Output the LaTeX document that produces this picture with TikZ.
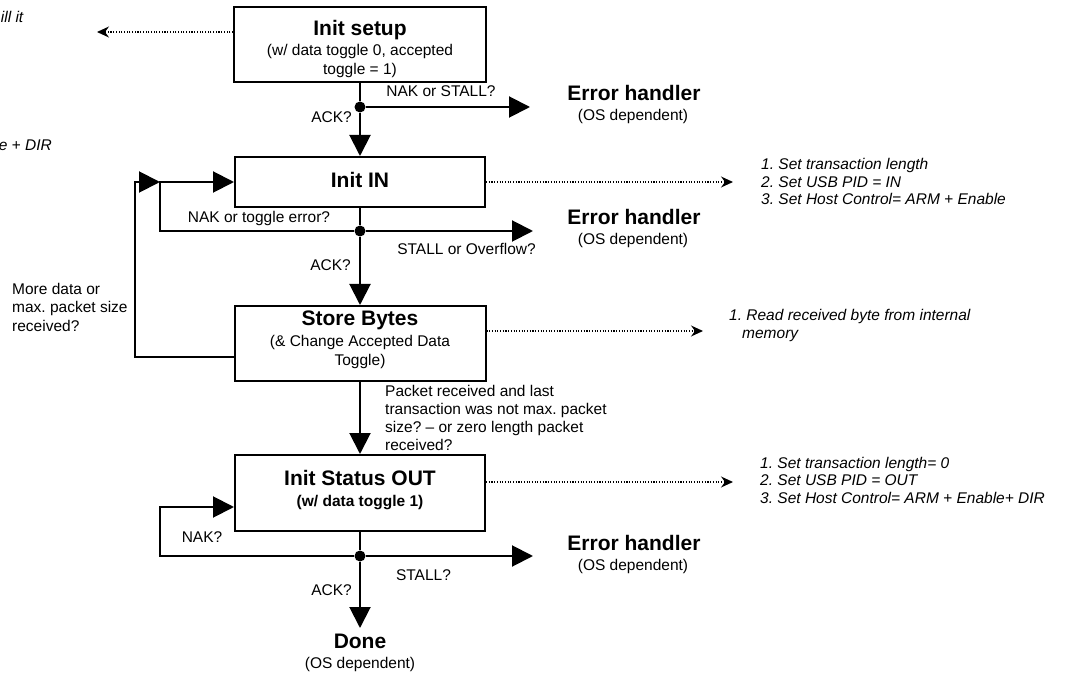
\documentclass[tikz,border=0pt]{standalone}
\usepackage{fontspec}
\setmainfont{Liberation Sans}
\usetikzlibrary{arrows.meta}
\frenchspacing
\begin{document}
\begin{tikzpicture}[x=1pt,y=-1pt,
  box/.style={draw, line width=2pt, inner sep=0pt},
  ttl/.style={font=\fontsize{21}{24}\selectfont\bfseries, inner sep=0pt, anchor=base},
  txt/.style={font=\fontsize{15.5}{18}\selectfont, inner sep=0pt, anchor=base},
  subb/.style={font=\fontsize{15.5}{18}\selectfont\bfseries, inner sep=0pt, anchor=base},
  lefttxt/.style={font=\fontsize{15.5}{18}\selectfont, inner sep=0pt, anchor=base west, align=left},
  note/.style={font=\fontsize{15.5}{17.5}\selectfont\itshape, inner sep=0pt, anchor=base west, align=left},
  dot/.style={circle, fill, inner sep=0pt, minimum size=11pt},
  wire/.style={line width=2pt},
  flow/.style={line width=2pt, -{Triangle[length=21pt,width=21pt]}},
  info/.style={line width=1.2pt, dash pattern=on 1.1pt off 1.6pt, -{Stealth[length=12pt,width=11pt,inset=4pt]}}
]
\useasboundingbox (0,0) rectangle (1072,679);

% cut-off texts at left edge
\node[note, anchor=base east] (cutA) at (23.5,22.5) {ill it};
\node[note, anchor=base east] (cutB) at (52,151) {e + DIR};
\coordinate (b0) at (97,32);

% Init setup
\node[box, minimum width=252pt, minimum height=75pt] (setup) at (360,44.5) {};
\node[ttl] (setupT) at (360,36) {Init setup};
\node[txt] (setupS1) at (360,56) {(w/ data toggle 0, accepted};
\node[txt] (setupS2) at (360,75) {toggle = 1)};

\node[dot] (d1) at (360,107) {};
\coordinate (a1) at (530,107);
\node[ttl] (e1) at (634,101) {Error handler};
\node[txt] (e1s) at (633,121) {(OS dependent)};
\node[txt] (l1) at (441,97) {NAK or STALL?};
\node[txt, anchor=base east] (l2) at (352,123) {ACK?};

% Init IN
\node[box, minimum width=250pt, minimum height=50pt] (inin) at (360,182) {};
\node[ttl] (ininT) at (360,188) {Init IN};
\node[dot] (d2) at (360,231) {};
\coordinate (a2) at (533,231);
\coordinate (j1) at (160,182);
\coordinate (k1) at (135,182);
\node[txt] (l3) at (259,223) {NAK or toggle error?};
\node[txt] (l4) at (466.5,255) {STALL or Overflow?};
\node[txt, anchor=base east] (l5) at (351,271) {ACK?};
\node[ttl] (e2) at (634,225) {Error handler};
\node[txt] (e2s) at (633,245) {(OS dependent)};
\node[note] (n1) at (761,205) {1. Set transaction length\\2. Set USB PID = IN\\3. Set Host Control= ARM + Enable};
\coordinate (b1) at (733,182);

% Store Bytes
\node[box, minimum width=251pt, minimum height=75pt] (store) at (360,343.5) {};
\node[ttl] (storeT) at (360,326) {Store Bytes};
\node[txt] (storeS1) at (360,347) {(\& Change Accepted Data};
\node[txt] (storeS2) at (360,366) {Toggle)};
\coordinate (k2) at (135,357);
\node[lefttxt] (l6) at (12,331) {More data or\\max. packet size\\received?};
\node[note] (n2) at (729,338) {1. Read received byte from internal\\\hspace*{13pt}memory};
\coordinate (b2) at (703,331);
\node[lefttxt] (l7) at (385,450) {Packet received and last\\transaction was not max. packet\\size? – or zero length packet\\received?};

% Init Status OUT
\node[box, minimum width=250pt, minimum height=76pt] (statout) at (360,493) {};
\node[ttl] (statT) at (360,485) {Init Status OUT};
\node[subb] (statS) at (360,506) {(w/ data toggle 1)};
\coordinate (b3) at (733,482);
\node[note] (n3) at (760,503) {1. Set transaction length= 0\\2. Set USB PID = OUT\\3. Set Host Control= ARM + Enable+ DIR};
\node[dot] (d3) at (360,556) {};
\coordinate (j3) at (160,507);
\coordinate (a3) at (533,556);
\node[txt] (l8) at (202,542) {NAK?};
\node[txt] (l9) at (423.5,580) {STALL?};
\node[txt, anchor=base east] (l10) at (352,595) {ACK?};
\node[ttl] (e3) at (634,550) {Error handler};
\node[txt] (e3s) at (633,570) {(OS dependent)};
\node[ttl] (done) at (360,648) {Done};
\node[txt] (dones) at (360,668) {(OS dependent)};
\coordinate (a4) at (360,628);

% connectors
\draw[wire] (setup) -- (d1);
\draw[flow] (d1) -- (inin);
\draw[flow] (d1) -- (a1);
\draw[info] (setup.west |- b0) -- (b0);
\draw[wire] (inin) -- (d2);
\draw[flow] (d2) -- (a2);
\draw[flow] (d2) -- (store);
\draw[flow] (d2) -| (j1) -- (inin.west);
\draw[info] (inin.east) -- (b1);
\draw[flow] (store.west |- k2) -- (k2) -- (k1) -- (j1);
\draw[info] (store.east |- b2) -- (b2);
\draw[flow] (store) -- (statout);
\draw[info] (statout.east |- b3) -- (b3);
\draw[wire] (statout) -- (d3);
\draw[flow] (d3) -- (a3);
\draw[flow] (d3) -| (j3) -- (j3 -| statout.west);
\draw[flow] (d3) -- (a4);
\end{tikzpicture}
\end{document}
